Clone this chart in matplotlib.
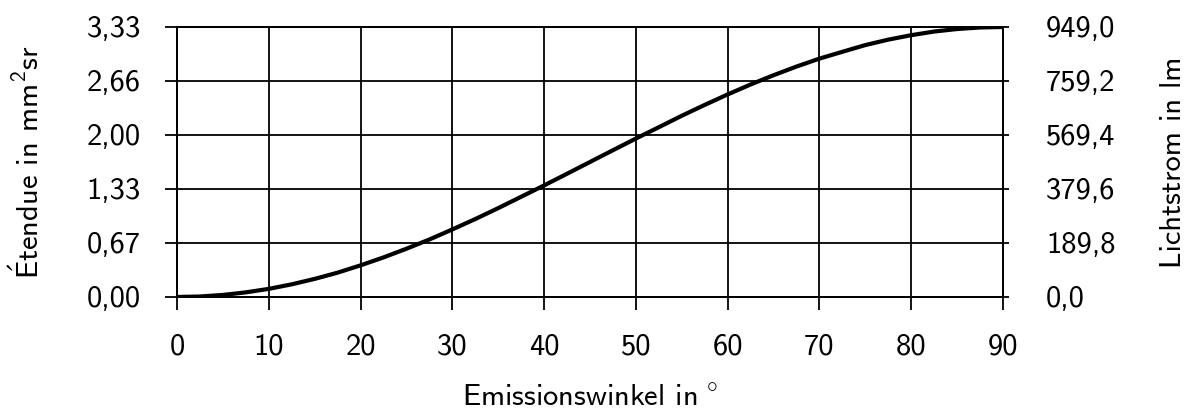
import matplotlib
matplotlib.use("Agg")
import matplotlib.pyplot as plt
from matplotlib.ticker import FixedLocator, FixedFormatter

# data
angle_deg = [0, 2.5, 5, 7.5, 10, 12.5, 15, 17.5, 20, 22.5, 25, 27.5, 30, 32.5, 35, 37.5,
             40, 42.5, 45, 47.5, 50, 52.5, 55, 57.5, 60, 62.5, 65, 67.5, 70, 72.5, 75,
             77.5, 80, 82.5, 85, 87.5, 90]
etendue = [0.00, 0.006, 0.025, 0.057, 0.10, 0.156, 0.223, 0.300, 0.39, 0.488, 0.595, 0.709,
           0.833, 0.961, 1.096, 1.236, 1.376, 1.520, 1.665, 1.810, 1.954, 2.094, 2.235,
           2.369, 2.498, 2.621, 2.735, 2.842, 2.940, 3.024, 3.107, 3.174, 3.229, 3.274,
           3.305, 3.324, 3.33]
x_ticks = [0, 10, 20, 30, 40, 50, 60, 70, 80, 90]
y_left_ticks = [0.0, 0.666, 1.332, 1.998, 2.664, 3.33]
y_left_labels = ["0,00", "0,67", "1,33", "2,00", "2,66", "3,33"]
y_right_max = 949.0
y_right_labels = ["0,0", "189,8", "379,6", "569,4", "759,2", "949,0"]

plt.rcParams['font.family'] = ['cmss10', 'DejaVu Sans']
plt.rcParams['mathtext.fontset'] = 'custom'
plt.rcParams['mathtext.rm'] = 'cmss10'
plt.rcParams['mathtext.sf'] = 'cmss10'
plt.rcParams['mathtext.it'] = 'cmss10'
plt.rcParams['mathtext.bf'] = 'cmss10'
plt.rcParams['axes.unicode_minus'] = False
FS = 22

fig = plt.figure(figsize=(11.95, 4.16), dpi=100)
ax = fig.add_axes([0.1481, 0.2861, 0.6912, 0.6490])
ax.plot(angle_deg, etendue, color='black', lw=3.0, zorder=3)
ax.set_xlim(0, 90)
ax.set_ylim(0, 3.33)
ax.xaxis.set_major_locator(FixedLocator(x_ticks))
ax.yaxis.set_major_locator(FixedLocator(y_left_ticks))
ax.yaxis.set_major_formatter(FixedFormatter(y_left_labels))
ax.grid(True, color='black', lw=1.3)
for s in ax.spines.values():
    s.set_linewidth(1.3)
ax.tick_params(axis='both', direction='out', length=9, width=1.3, labelsize=FS)
ax.tick_params(axis='y', pad=17)
ax.tick_params(axis='x', pad=17)
ax.set_xlabel(r"Emissionswinkel in$\;^{\circ}$", fontsize=FS, labelpad=18)
ax.set_ylabel(r"$\acute{\mathrm{E}}$tendue in mm$^2$sr", fontsize=FS, labelpad=30)

ax2 = ax.twinx()
ax2.set_ylim(0, y_right_max)
ax2.yaxis.set_major_locator(FixedLocator([y_right_max * i / 5 for i in range(6)]))
ax2.yaxis.set_major_formatter(FixedFormatter(y_right_labels))
ax2.tick_params(axis='y', direction='out', length=4, width=1.3, labelsize=FS, pad=27)
for s in ax2.spines.values():
    s.set_linewidth(1.3)
ax2.set_ylabel("Lichtstrom in lm", fontsize=FS, labelpad=32)

fig.savefig("out.png", dpi=100)
